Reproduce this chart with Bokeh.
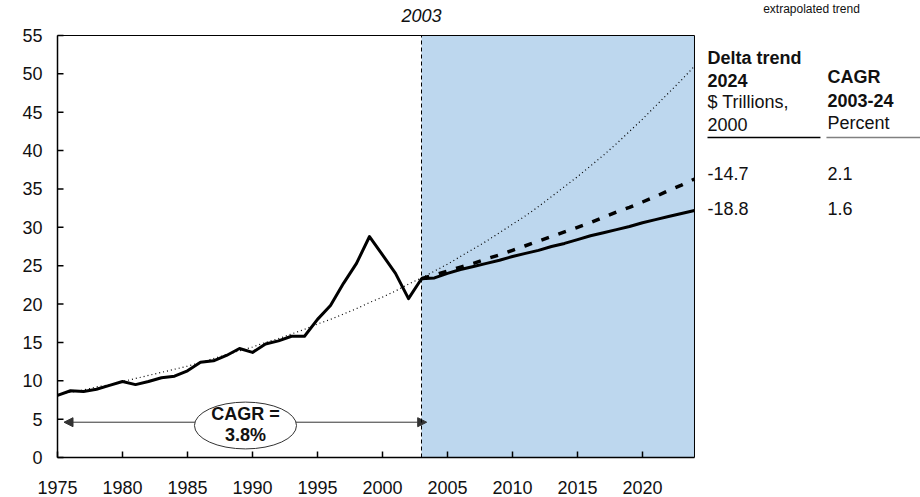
from bokeh.plotting import figure
from bokeh.models import Range1d, BoxAnnotation, Arrow, NormalHead
from bokeh.embed import file_html
from bokeh.resources import INLINE
from bokeh.core.properties import value

# ---------------- data ----------------
years = list(range(1975, 2025))
actual = [8.1, 8.7, 8.6, 8.9, 9.4, 9.9, 9.5, 9.9, 10.4, 10.6,
          11.3, 12.4, 12.6, 13.3, 14.2, 13.7, 14.8, 15.2, 15.8, 15.8,
          18.0, 19.8, 22.7, 25.3, 28.8, 26.4, 24.0, 20.7, 23.3, 23.4,
          24.0, 24.5, 24.9, 25.3, 25.7, 26.2, 26.6, 27.0, 27.5, 27.9,
          28.4, 28.9, 29.3, 29.7, 30.1, 30.6, 31.0, 31.4, 31.8, 32.2]
trend = [8.2, 8.5, 8.8, 9.2, 9.5, 9.9, 10.3, 10.7, 11.1, 11.5,
         11.9, 12.4, 12.9, 13.4, 13.9, 14.4, 15.0, 15.5, 16.1, 16.7,
         17.4, 18.0, 18.7, 19.4, 20.2, 20.9, 21.7, 22.6, 23.4, 24.3,
         25.2, 26.2, 27.2, 28.2, 29.3, 30.4, 31.5, 32.7, 34.0, 35.3,
         36.6, 38.0, 39.4, 40.9, 42.5, 44.1, 45.8, 47.5, 49.2, 51.0]
scenario_years = list(range(2003, 2025))
scenario = [23.3, 23.8, 24.3, 24.8, 25.3, 25.9, 26.4, 27.0, 27.6, 28.2, 28.8,
            29.4, 30.0, 30.6, 31.3, 32.0, 32.6, 33.3, 34.0, 34.8, 35.5, 36.3]
x_ticks = list(range(1975, 2021, 5))
x_tick_labels = [str(v) for v in x_ticks]
y_ticks = list(range(0, 56, 5))
y_tick_labels = [str(v) for v in y_ticks]
y_min, y_max = 0, 55
x_min, x_max = 1975, 2024
split_year = 2003
cagr_label = ["CAGR =", "3.8%"]
col1_head_bold = ["Delta trend", "2024"]
col1_head_norm = ["$ Trillions,", "2000"]
col2_head_bold = ["CAGR", "2003-24"]
col2_head_norm = ["Percent"]
delta_values = ["-14.7", "-18.8"]
cagr_values = ["2.1", "1.6"]
top_note = "extrapolated trend"

FONT = "Liberation Sans"
TXT = "#111111"
PX_X = 1 / 13.0       # years per pixel
PX_Y = 1 / 7.6727     # units per pixel

# the frame covers the whole canvas: 13 px per year, 7.6727 px per unit
p = figure(width=920, height=497,
           x_range=Range1d(1970.615, 2041.385), y_range=Range1d(-5.213, 59.562),
           output_backend="svg", toolbar_location=None,
           min_border_left=0, min_border_right=0, min_border_top=0, min_border_bottom=0,
           x_axis_location=None, y_axis_location=None)
p.xgrid.visible = False
p.ygrid.visible = False
p.outline_line_color = None
p.background_fill_color = "white"
p.border_fill_color = "white"

# shaded forecast period
p.add_layout(BoxAnnotation(left=split_year, right=x_max, bottom=y_min, top=y_max,
                           fill_color="#BDD7EE", fill_alpha=1, line_color=None,
                           level="underlay"))
# CAGR arrow
p.add_layout(Arrow(start=NormalHead(size=9, fill_color="#333333", line_color="#333333"),
                   end=NormalHead(size=9, fill_color="#333333", line_color="#333333"),
                   x_start=x_min + 0.5, y_start=4.6, x_end=split_year + 0.4, y_end=4.6,
                   line_color="#333333", line_width=1, level="underlay"))

# frame top / right borders and split line
p.segment(x0=[x_min], y0=[y_max], x1=[x_max], y1=[y_max], line_color="black", line_width=1)
p.segment(x0=[x_max], y0=[y_min], x1=[x_max], y1=[y_max], line_color="black", line_width=1)
p.segment(x0=[split_year], y0=[y_min], x1=[split_year], y1=[y_max], line_color="black",
          line_width=1, line_dash="4 3")

# series
p.line(years, trend, line_color="black", line_width=1.2, line_dash="1 3")
p.line(scenario_years, scenario, line_color="black", line_width=3.5, line_dash="8 10")
p.line(years, actual, line_color="black", line_width=3, line_join="round")

# axes drawn by hand (lines, inward ticks, labels)
nx, ny = len(x_ticks), len(y_ticks)
p.segment(x0=[x_min], y0=[y_min], x1=[x_max], y1=[y_min], line_color="black", line_width=1.5)
p.segment(x0=[x_min], y0=[y_min], x1=[x_min], y1=[y_max], line_color="black", line_width=1.5)
p.segment(x0=x_ticks, y0=[y_min] * nx, x1=x_ticks, y1=[y_min + 6 * PX_Y] * nx,
          line_color="black", line_width=1.5)
p.segment(x0=[x_min] * ny, y0=y_ticks, x1=[x_min + 6 * PX_X] * ny, y1=y_ticks,
          line_color="black", line_width=1.5)
p.text(x=x_ticks, y=[y_min - 30 * PX_Y] * nx, text=x_tick_labels, text_font=value(FONT),
       text_font_size="18px", text_align="center", text_baseline="middle", text_color=TXT)
p.text(x=[x_min - 15 * PX_X] * ny, y=y_ticks, text=y_tick_labels, text_font=value(FONT),
       text_font_size="18px", text_align="right", text_baseline="middle", text_color=TXT)

# CAGR ellipse
p.ellipse(x=[1989.46], y=[4.17], width=[7.85], height=[6.1], fill_color="white",
          line_color="#333333", line_width=1)
p.text(x=[1989.46, 1989.46], y=[5.73, 2.87], text=cagr_label, text_font=value(FONT),
       text_font_size="18px", text_font_style="bold", text_align="center",
       text_baseline="middle", text_color=TXT)

# top labels
p.text(x=[split_year], y=[57.55], text=[str(split_year)], text_font=value(FONT),
       text_font_size="18px", text_font_style="italic", text_align="center",
       text_baseline="middle", text_color=TXT)
p.text(x=[2033.0], y=[59.4], text=[top_note], text_font=value(FONT),
       text_font_size="12px", text_align="center", text_baseline="top",
       text_color=TXT)

# side table
common = dict(text_font=value(FONT), text_font_size="18px", text_baseline="middle",
              text_align="left", text_color=TXT)
c1, c2 = 2025.0, 2034.23
p.text(x=[c1, c1], y=[52.13, 49.13], text=col1_head_bold, text_font_style="bold", **common)
p.text(x=[c1, c1], y=[46.27, 43.40], text=col1_head_norm, **common)
p.text(x=[c2, c2], y=[49.53, 46.53], text=col2_head_bold, text_font_style="bold", **common)
p.text(x=[c2], y=[43.66], text=col2_head_norm, **common)
p.text(x=[c1, c1], y=[37.01, 32.45], text=delta_values, **common)
p.text(x=[c2, c2], y=[37.01, 32.45], text=cagr_values, **common)
p.segment(x0=[c1], y0=[41.71], x1=[2033.69], y1=[41.71], line_color="black", line_width=1.5)
p.segment(x0=[2034.15], y0=[41.71], x1=[2041.385], y1=[41.71], line_color="#808080",
          line_width=1.5)

open("out.html", "w").write(file_html(p, INLINE))
